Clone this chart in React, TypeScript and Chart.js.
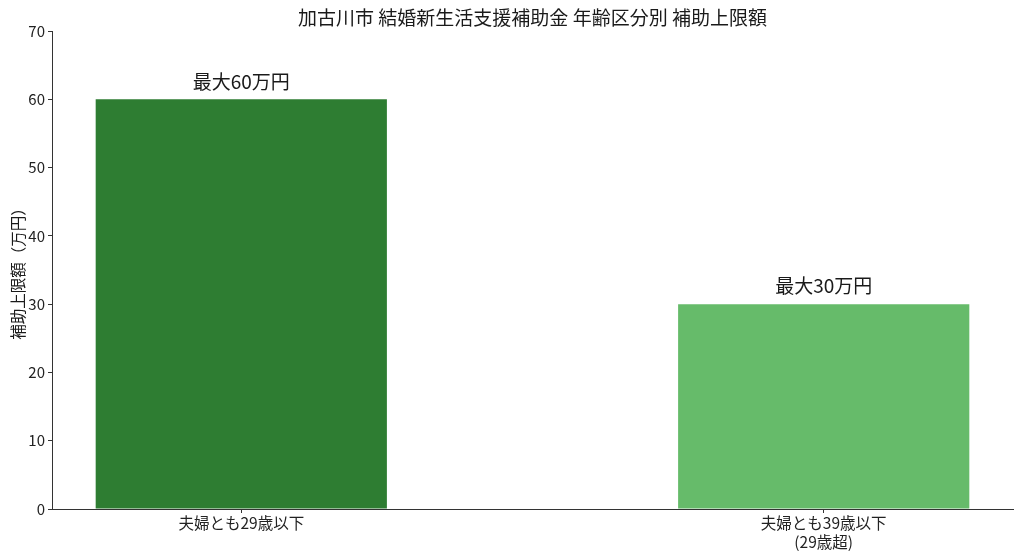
import { useEffect, useRef } from "react";
import { Chart, ChartConfiguration, Plugin, registerables } from "chart.js";
Chart.register(...registerables);

const categories: string[][] = [["夫婦とも29歳以下"], ["夫婦とも39歳以下", "(29歳超)"]];
const positions = [0, 1];
const limits = [60, 30];
const barLabels = ["最大60万円", "最大30万円"];
const barColors = ["#2e7d32", "#66bb6a"];
const titleText = "加古川市 結婚新生活支援補助金 年齢区分別 補助上限額";
const yTitle = "補助上限額（万円）";

const FONT = "'Noto Sans CJK JP', 'Noto Sans', sans-serif";

// text above each bar, and the title centred over the plot area
const textPlugin: Plugin = {
  id: "texts",
  afterDatasetsDraw(chart) {
    const ctx = chart.ctx;
    const meta = chart.getDatasetMeta(0);
    ctx.save();
    ctx.font = `19px ${FONT}`;
    ctx.fillStyle = "#1a1a1a";
    ctx.textAlign = "center";
    ctx.textBaseline = "middle";
    meta.data.forEach((bar: any, i) => {
      ctx.fillText(barLabels[i], bar.x, bar.y - 18);
    });
    const { left, right } = chart.chartArea;
    ctx.fillText(titleText, (left + right) / 2, 18);
    ctx.restore();
  },
};

const App = () => {
  const ref = useRef<HTMLCanvasElement>(null);

  useEffect(() => {
    const config: ChartConfiguration = {
      type: "bar",
      data: {
        datasets: [
          {
            data: positions.map((x, i) => ({ x, y: limits[i] })),
            backgroundColor: barColors,
            borderWidth: 0,
            barPercentage: 0.5,
            categoryPercentage: 1,
          },
        ],
      },
      options: {
        animation: false,
        responsive: true,
        maintainAspectRatio: false,
        layout: { padding: { top: 31, right: 11, left: 0, bottom: 0 } },
        plugins: {
          legend: { display: false },
          tooltip: { enabled: false },
          title: { display: false },
        },
        scales: {
          x: {
            type: "linear",
            offset: false,
            min: -0.325,
            max: 1.325,
            afterBuildTicks: (s: any) => {
              s.ticks = positions.map((v) => ({ value: v }));
            },
            afterFit: (s: any) => {
              s.height = 50;
            },
            ticks: {
              autoSkip: false,
              maxRotation: 0,
              color: "#222",
              padding: 1,
              font: { family: FONT, size: 15.5 },
              callback: (_v: any, i: number) => categories[i],
            },
            grid: { offset: false, drawOnChartArea: false, drawTicks: true, tickLength: 4, color: "#333" },
            border: { display: true, color: "#333" },
          },
          y: {
            min: 0,
            max: 70,
            afterFit: (s: any) => {
              s.width = 52;
            },
            ticks: {
              stepSize: 10,
              color: "#222",
              padding: 3,
              font: { family: FONT, size: 15 },
            },
            title: {
              display: true,
              text: yTitle,
              color: "#1a1a1a",
              font: { family: FONT, size: 15.5 },
              padding: { top: 9, bottom: 0 },
            },
            grid: { drawOnChartArea: false, drawTicks: true, tickLength: 4, color: "#333" },
            border: { display: true, color: "#333" },
          },
        },
      },
      plugins: [textPlugin],
    };
    const chart = new Chart(ref.current!, config);
    return () => {
      chart.destroy();
    };
  }, []);

  return (
    <div style={{ position: "fixed", left: 0, top: 0, width: 1024, height: 559, background: "#fff" }}>
      <canvas ref={ref}></canvas>
    </div>
  );
};
export default App;
